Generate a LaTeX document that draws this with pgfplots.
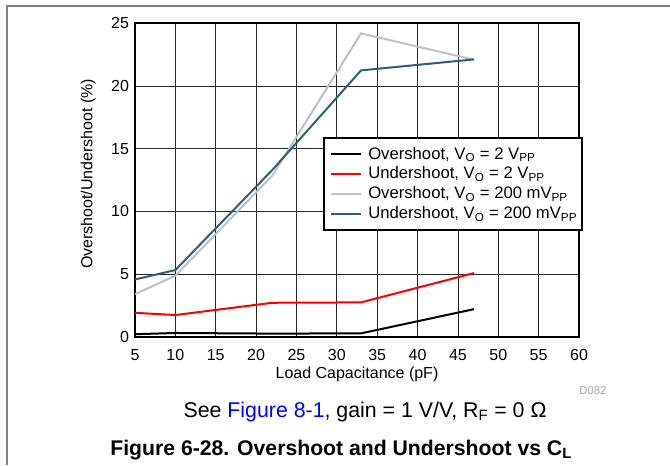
\documentclass[border=0pt]{standalone}
\usepackage{fontspec}
\setmainfont{Liberation Sans}
\usepackage{pgfplots}
\pgfplotsset{compat=1.18}
\definecolor{cblue}{RGB}{46,94,122}
\definecolor{cgray}{RGB}{192,192,192}
\definecolor{cred}{RGB}{255,0,0}
\begin{document}
\begin{tikzpicture}
\path[use as bounding box] (0,0) rectangle (502.5pt,348.75pt);
\fill[white] (0,0) rectangle (502.5pt,348.75pt);
\draw[black!50,line width=1.5pt] (5.5pt,0) -- (5.5pt,344.5pt) -- (502.5pt,344.5pt);
\begin{axis}[
  at={(101.25pt,96.2pt)}, anchor=south west,
  scale only axis, width=333pt, height=235pt,
  xmin=5, xmax=60, ymin=0, ymax=25,
  xtick={5,10,...,60}, ytick={0,5,...,25},
  grid=major,
  major grid style={black!85, line width=0.6pt},
  axis line style={line width=1.5pt},
  tick style={draw=none},
  /pgf/number format/assume math mode=true,
  ticklabel style={font=\fontsize{12}{14}\selectfont},
  xticklabel style={yshift=-6pt},
  yticklabel style={xshift=-1pt},
  xlabel={Load Capacitance (pF)},
  ylabel={Overshoot/Undershoot (\%)},
  label style={font=\fontsize{12}{14}\selectfont},
  xlabel style={at={(axis description cs:0.5,0)}, anchor=center, yshift=-28.5pt},
  ylabel style={at={(axis description cs:0,0.52)}, anchor=center, rotate=0, yshift=35pt},
  legend cell align=left,
  legend style={at={(0.424,0.638)}, anchor=north west, draw=black, line width=1.3pt,
    font=\fontsize{12.5}{14}\selectfont, inner xsep=1.5pt, inner ysep=5pt, row sep=0.3pt,
    /tikz/every odd column/.append style={column sep=2.5pt}},
  legend image code/.code={\path (-0.1cm,0cm); \draw[#1] (0cm,0cm) -- (0.8cm,0cm);},
]
\addplot[black, line width=1.5pt] coordinates {(5,0.2) (10,0.3) (22,0.25) (33,0.27) (47,2.2)};
\addlegendentry{Overshoot, V\textsubscript{O} = 2 V\textsubscript{PP}}
\addplot[cred, line width=1.5pt] coordinates {(5,1.91) (10,1.73) (22,2.71) (33,2.74) (47,5.08)};
\addlegendentry{Undershoot, V\textsubscript{O} = 2 V\textsubscript{PP}}
\addplot[cgray, line width=1.5pt] coordinates {(5,3.4) (10,4.87) (22,12.85) (33,24.2) (47,22.1)};
\addlegendentry{Overshoot, V\textsubscript{O} = 200 mV\textsubscript{PP}}
\addplot[cblue, line width=1.5pt] coordinates {(5,4.57) (10,5.32) (22,13.3) (33,21.25) (47,22.13)};
\addlegendentry{Undershoot, V\textsubscript{O} = 200 mV\textsubscript{PP}}
\end{axis}
\node[anchor=west, text=black!35, font=\fontsize{8.5}{10}\selectfont] at (431pt,55.5pt) {D082};
\node[anchor=base, font=\fontsize{16}{19}\selectfont] at (273.75pt,36pt) {See \textcolor{blue}{Figure 8-1}, gain = 1 V/V, R\textsubscript{F} = 0 Ω};
\node[anchor=base, font=\fontsize{15.9}{19}\selectfont\bfseries] at (255.9pt,7.5pt) {Figure 6-28. Overshoot and Undershoot vs C\textsubscript{L}};
\end{tikzpicture}
\end{document}
